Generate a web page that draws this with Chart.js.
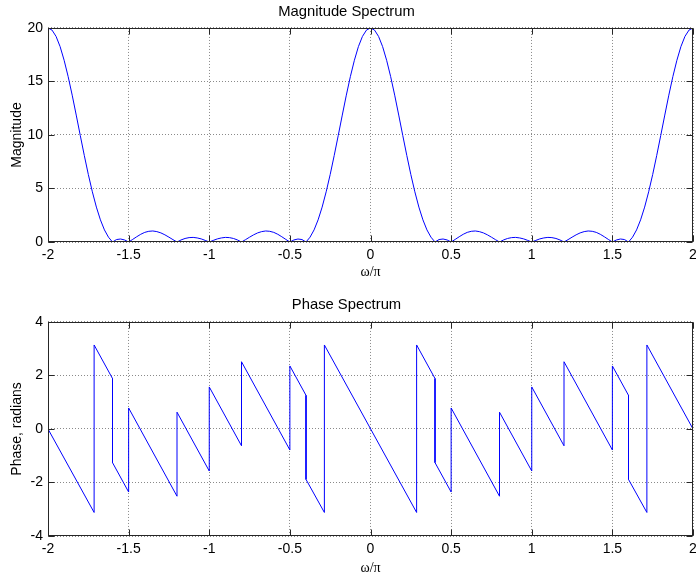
<!DOCTYPE html>
<html>
<head>
<meta charset="utf-8">
<script src="https://cdn.jsdelivr.net/npm/chart.js@4/dist/chart.umd.min.js"></script>
<style>
  html, body { margin: 0; padding: 0; background: #fff; }
  #wrap { position: relative; width: 696px; height: 581px; overflow: hidden; }
  canvas { position: absolute; left: 0; }
  #c1 { top: 0; }
  #c2 { top: 290px; }
</style>
</head>
<body>
<div id="wrap">
  <canvas id="c1" width="696" height="290"></canvas>
  <canvas id="c2" width="696" height="291"></canvas>
</div>
<script>
// ---- data ----
const magOmega = [
  -2,-1.975,-1.95,-1.925,-1.9,-1.875,-1.85,-1.825,-1.8,-1.775,-1.75,-1.725,-1.7,-1.675,-1.65,-1.625,-1.6,-1.575,-1.55,-1.525,
  -1.5,-1.475,-1.45,-1.425,-1.4,-1.375,-1.35,-1.325,-1.3,-1.275,-1.25,-1.225,-1.2,-1.175,-1.15,-1.125,-1.1,-1.075,-1.05,-1.025,-1,
  -0.975,-0.95,-0.925,-0.9,-0.875,-0.85,-0.825,-0.8,-0.775,-0.75,-0.725,-0.7,-0.675,-0.65,-0.625,-0.6,-0.575,-0.55,-0.525,-0.5,
  -0.475,-0.45,-0.425,-0.4,-0.375,-0.35,-0.325,-0.3,-0.275,-0.25,-0.225,-0.2,-0.175,-0.15,-0.125,-0.1,-0.075,-0.05,-0.025,0,
  0.025,0.05,0.075,0.1,0.125,0.15,0.175,0.2,0.225,0.25,0.275,0.3,0.325,0.35,0.375,0.4,0.425,0.45,0.475,0.5,
  0.525,0.55,0.575,0.6,0.625,0.65,0.675,0.7,0.725,0.75,0.775,0.8,0.825,0.85,0.875,0.9,0.925,0.95,0.975,1,
  1.025,1.05,1.075,1.1,1.125,1.15,1.175,1.2,1.225,1.25,1.275,1.3,1.325,1.35,1.375,1.4,1.425,1.45,1.475,1.5,
  1.525,1.55,1.575,1.6,1.625,1.65,1.675,1.7,1.725,1.75,1.775,1.8,1.825,1.85,1.875,1.9,1.925,1.95,1.975,2
];
const magValues = [
  20,19.80,19.21,18.26,16.98,15.45,13.72,11.86,9.96,8.09,6.31,4.69,3.26,2.07,1.13,0.45,0,0.23,0.28,0.19,
  0,0.24,0.49,0.72,0.90,1.00,1.03,0.97,0.85,0.67,0.45,0.22,0,0.19,0.33,0.41,0.43,0.38,0.29,0.15,0,
  0.15,0.29,0.38,0.43,0.41,0.33,0.19,0,0.22,0.45,0.67,0.85,0.97,1.03,1.00,0.90,0.72,0.49,0.24,0,
  0.19,0.28,0.23,0,0.45,1.13,2.07,3.26,4.69,6.31,8.09,9.96,11.86,13.72,15.45,16.98,18.26,19.21,19.80,20,
  19.80,19.21,18.26,16.98,15.45,13.72,11.86,9.96,8.09,6.31,4.69,3.26,2.07,1.13,0.45,0,0.23,0.28,0.19,0,
  0.24,0.49,0.72,0.90,1.00,1.03,0.97,0.85,0.67,0.45,0.22,0,0.19,0.33,0.41,0.43,0.38,0.29,0.15,0,
  0.15,0.29,0.38,0.43,0.41,0.33,0.19,0,0.22,0.45,0.67,0.85,0.97,1.03,1.00,0.90,0.72,0.49,0.24,0,
  0.19,0.28,0.23,0,0.45,1.13,2.07,3.26,4.69,6.31,8.09,9.96,11.86,13.72,15.45,16.98,18.26,19.21,19.80,20
];
const phaseOmega = [
  -2,-1.714,-1.714,-1.6,-1.6,-1.5,-1.5,-1.2,-1.2,-1,-1,-0.8,-0.8,-0.5,-0.5,-0.4,-0.4,-0.286,-0.286,
  0.286,0.286,0.4,0.4,0.5,0.5,0.8,0.8,1,1,1.2,1.2,1.5,1.5,1.6,1.6,1.714,1.714,2
];
const phaseValues = [
  0,-3.12,3.14,1.885,-1.257,-2.356,0.785,-2.513,0.628,-1.571,1.571,-0.628,2.513,-0.785,2.356,1.257,-1.885,-3.12,3.14,
  -3.12,3.14,1.885,-1.257,-2.356,0.785,-2.513,0.628,-1.571,1.571,-0.628,2.513,-0.785,2.356,1.257,-1.885,-3.12,3.14,0
];
const xTicks = [-2,-1.5,-1,-0.5,0,0.5,1,1.5,2];
const xTickLabels = ['-2','-1.5','-1','-0.5','0','0.5','1','1.5','2'];
const magTicks = [0,5,10,15,20];
const magTickLabels = ['0','5','10','15','20'];
const phaseTicks = [-4,-2,0,2,4];
const phaseTickLabels = ['-4','-2','0','2','4'];

// ---- styling ----
const SANS = "'Liberation Sans', Arial, Helvetica, sans-serif";
const SERIF = "'Liberation Serif', 'Times New Roman', serif";
const AXIS = '#262626';
const GRID = '#8a8a8a';
const LINE = 'rgb(0,0,255)';

const matlabBox = {
  id: 'matlabBox',
  afterDraw(chart) {
    const {ctx, chartArea: a, scales: {x, y}} = chart;
    const L = Math.round(a.left) + 0.5, R = Math.round(a.right) - 0.5;
    const T = Math.round(a.top) + 0.5, B = Math.round(a.bottom) - 0.5;
    ctx.save();
    ctx.strokeStyle = AXIS;
    ctx.lineWidth = 1;
    ctx.setLineDash([]);
    ctx.beginPath();
    x.ticks.forEach(t => {
      const px = Math.round(x.getPixelForValue(t.value)) + 0.5;
      ctx.moveTo(px, B); ctx.lineTo(px, B - 6);
      ctx.moveTo(px, T); ctx.lineTo(px, T + 6);
    });
    y.ticks.forEach(t => {
      const py = Math.round(y.getPixelForValue(t.value)) + 0.5;
      ctx.moveTo(L, py); ctx.lineTo(L + 6, py);
      ctx.moveTo(R, py); ctx.lineTo(R - 6, py);
    });
    ctx.stroke();
    ctx.strokeRect(L, T, R - L, B - T);
    ctx.restore();
  }
};

function makeChart(id, cfg) {
  const pts = cfg.xs.map((v, i) => ({x: v, y: cfg.ys[i]}));
  return new Chart(document.getElementById(id), {
    type: 'line',
    data: { datasets: [{ data: pts, borderColor: LINE, borderWidth: 1, pointRadius: 0, tension: 0, fill: false }] },
    plugins: [matlabBox],
    options: {
      responsive: false,
      animation: false,
      devicePixelRatio: 1,
      layout: { padding: { left: 0, right: 3, top: 0, bottom: 0 } },
      plugins: {
        legend: { display: false },
        tooltip: { enabled: false },
        title: {
          display: true, text: cfg.title, color: '#000',
          font: { family: SANS, size: 14.8, weight: 'normal' },
          padding: cfg.titlePad
        }
      },
      scales: {
        x: {
          type: 'linear', min: -2, max: 2,
          afterBuildTicks(s) { s.ticks = xTicks.map(v => ({value: v})); },
          ticks: {
            maxRotation: 0, autoSkip: false, padding: 5, color: '#000', font: { family: SANS, size: 14 },
            callback: (v, i) => xTickLabels[i]
          },
          grid: { color: GRID, drawTicks: false, lineWidth: 1 },
          border: { display: false, dash: [1, 2] },
          title: { display: true, text: 'ω/π', color: '#000', font: { family: SERIF, size: 14 }, padding: { top: 0, bottom: cfg.xTitlePad } },
          afterFit(s) { s.height = cfg.xHeight; s.paddingLeft = 0; s.paddingRight = 0; }
        },
        y: {
          type: 'linear', min: cfg.ymin, max: cfg.ymax,
          afterBuildTicks(s) { s.ticks = cfg.yTicks.map(v => ({value: v})); },
          ticks: {
            padding: 5, color: '#000', font: { family: SANS, size: 14 },
            callback: (v, i) => cfg.yLabels[i]
          },
          grid: { color: GRID, drawTicks: false, lineWidth: 1 },
          border: { display: false, dash: [1, 2] },
          title: { display: true, text: cfg.ytitle, color: '#000', font: { family: SANS, size: 14 }, padding: { top: 8.6, bottom: 0 } },
          afterFit(s) { s.width = 48; s.paddingTop = 0; s.paddingBottom = 0; }
        }
      }
    }
  });
}

makeChart('c1', {
  xs: magOmega, ys: magValues, title: 'Magnitude Spectrum',
  titlePad: { top: 3.2, bottom: 7.0 }, xHeight: 48, xTitlePad: 9.6,
  ymin: 0, ymax: 20, yTicks: magTicks, yLabels: magTickLabels, ytitle: 'Magnitude'
});
makeChart('c2', {
  xs: phaseOmega, ys: phaseValues, title: 'Phase Spectrum',
  titlePad: { top: 6.2, bottom: 8.0 }, xHeight: 45, xTitlePad: 4.6,
  ymin: -4, ymax: 4, yTicks: phaseTicks, yLabels: phaseTickLabels, ytitle: 'Phase, radians'
});
</script>
</body>
</html>
